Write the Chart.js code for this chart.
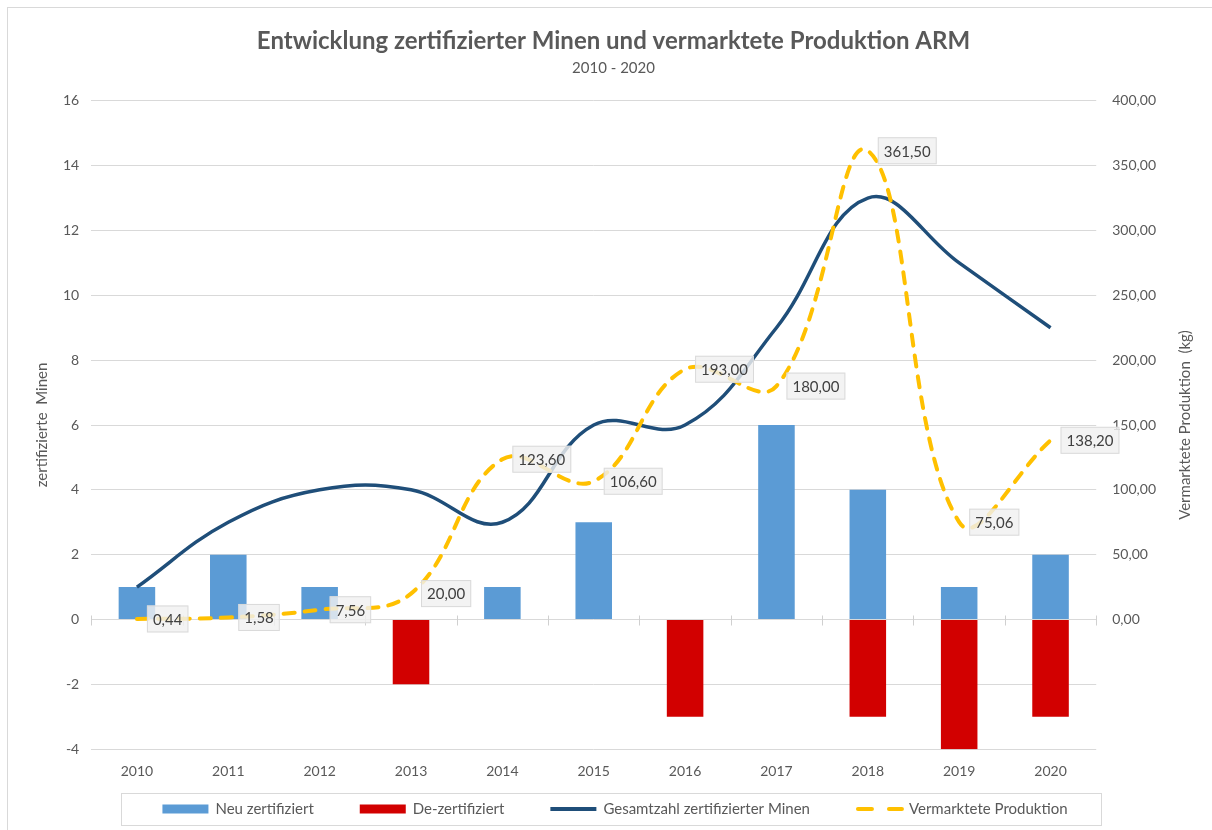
<!DOCTYPE html>
<html lang="de">
<head>
  <meta charset="UTF-8">
  <title>Entwicklung zertifizierter Minen</title>
  <script src="https://cdn.jsdelivr.net/npm/chart.js"></script>
  <style>
    html, body { margin: 0; padding: 0; background: #fff; }
    #wrap { position: relative; width: 1212px; height: 830px; }
  </style>
</head>
<body>
<div id="wrap">
  <canvas id="grafik" width="1212" height="830"></canvas>
</div>

<script>
  // Daten
  const jahre = ['2010', '2011', '2012', '2013', '2014', '2015', '2016', '2017', '2018', '2019', '2020'];
  const neuZertifiziert = [1, 2, 1, null, 1, 3, null, 6, 4, 1, 2];
  const deZertifiziert = [null, null, null, -2, null, null, -3, null, -3, -4, -3];
  const gesamtMinen = [1, 3, 4, 4, 3, 6, 6, 9, 13, 11, 9];
  const produktion = [0.44, 1.58, 7.56, 20.00, 123.60, 106.60, 193.00, 180.00, 361.50, 75.06, 138.20];

  // Achsenbereiche
  const minenAchse = [-4, 16, 2];       // min, max, schritt
  const produktionAchse = [-100, 400, 50];

  const schrift = 'Lato, "Open Sans", sans-serif';
  const grau = '#595959';

  function komma(v) {
    return v.toFixed(2).replace('.', ',');
  }

  // Legende selbst zeichnen (Excel-Stil mit Rahmen)
  function zeichneLegende(chart) {
    const ctx = chart.ctx;
    const ds = chart.data.datasets;
    ctx.save();
    ctx.font = '15px ' + schrift;
    const marke = 46, abstand = 7, luecke = 46;
    const breiten = ds.map(d => marke + abstand + ctx.measureText(d.label).width);
    const gesamt = breiten.reduce((a, b) => a + b, 0) + luecke * (ds.length - 1);
    const mitte = chart.width / 2 + 9;
    const yc = chart.height - 21;
    let x = mitte - gesamt / 2;

    ctx.strokeStyle = '#d9d9d9';
    ctx.lineWidth = 1;
    ctx.strokeRect(Math.round(x - 41) + 0.5, Math.round(yc - 16) + 0.5, Math.round(gesamt + 75), 32);

    ds.forEach((d, i) => {
      if (d.type === 'bar') {
        ctx.fillStyle = d.backgroundColor;
        ctx.fillRect(x, yc - 4.5, marke, 9);
      } else {
        ctx.strokeStyle = d.borderColor;
        ctx.lineWidth = 4;
        ctx.setLineDash(d.borderDash ? [14, 17] : []);
        ctx.lineCap = d.borderDash ? 'round' : 'butt';
        ctx.beginPath();
        ctx.moveTo(x + (d.borderDash ? 2 : 0), yc);
        ctx.lineTo(x + marke, yc);
        ctx.stroke();
        ctx.setLineDash([]);
      }
      ctx.fillStyle = grau;
      ctx.textAlign = 'left';
      ctx.textBaseline = 'middle';
      ctx.fillText(d.label, x + marke + abstand, yc);
      x += breiten[i] + luecke;
    });
    ctx.restore();
  }

  // Rahmen, Null-Linie mit Teilstrichen, Datenbeschriftung, Legende
  const extras = {
    id: 'extras',
    beforeDatasetsDraw(chart) {
      const ctx = chart.ctx;
      const xs = chart.scales.x;
      const y0 = chart.scales.y.getPixelForValue(0);
      const w = xs.getPixelForValue(1) - xs.getPixelForValue(0);
      ctx.save();
      ctx.strokeStyle = '#d0d0d0';
      ctx.lineWidth = 1;
      for (let k = 0; k <= jahre.length; k++) {
        const x = Math.round(xs.getPixelForValue(0) - w / 2 + k * w) + 0.5;
        ctx.beginPath();
        ctx.moveTo(x, y0 - 4);
        ctx.lineTo(x, y0 + 6);
        ctx.stroke();
      }
      ctx.restore();
    },
    afterDraw(chart) {
      const ctx = chart.ctx;
      ctx.save();

      // aeusserer Rahmen (links und oben sichtbar)
      ctx.strokeStyle = '#d9d9d9';
      ctx.lineWidth = 1;
      ctx.strokeRect(7.5, 7.5, chart.width + 10, chart.height + 10);

      // Datenbeschriftungen der Produktion
      const meta = chart.getDatasetMeta(3);
      ctx.font = '15px ' + schrift;
      ctx.textBaseline = 'middle';
      ctx.textAlign = 'left';
      meta.data.forEach((pt, i) => {
        const txt = komma(produktion[i]);
        const tw = ctx.measureText(txt).width;
        const bx = pt.x + 10;
        const bh = 27;
        const by = pt.y - bh / 2;
        ctx.fillStyle = 'rgba(240,240,240,0.82)';
        ctx.fillRect(bx, by, tw + 12, bh);
        ctx.strokeStyle = 'rgba(215,215,215,0.9)';
        ctx.strokeRect(bx + 0.5, by + 0.5, tw + 11, bh - 1);
        ctx.fillStyle = '#404040';
        ctx.fillText(txt, bx + 6, pt.y + 1);
      });

      // Titel der rechten Achse (von unten nach oben)
      const y1 = chart.scales.y1;
      ctx.save();
      ctx.translate(y1.right - 9, (chart.chartArea.top + chart.chartArea.bottom) / 2);
      ctx.rotate(-Math.PI / 2);
      ctx.textAlign = 'center';
      ctx.fillStyle = grau;
      ctx.font = '15px ' + schrift;
      ctx.fillText('Vermarktete Produktion  (kg)', 0, 0);
      ctx.restore();

      ctx.restore();
      zeichneLegende(chart);
    }
  };

  new Chart(document.getElementById('grafik').getContext('2d'), {
    data: {
      labels: jahre,
      datasets: [
        {
          type: 'bar',
          label: 'Neu zertifiziert',
          data: neuZertifiziert,
          backgroundColor: '#5b9bd5',
          grouped: false,
          barPercentage: 0.4,
          categoryPercentage: 1,
          yAxisID: 'y',
          order: 3
        },
        {
          type: 'bar',
          label: 'De-zertifiziert',
          data: deZertifiziert,
          backgroundColor: '#d20000',
          grouped: false,
          barPercentage: 0.4,
          categoryPercentage: 1,
          yAxisID: 'y',
          order: 3
        },
        {
          type: 'line',
          label: 'Gesamtzahl zertifizierter Minen',
          data: gesamtMinen,
          borderColor: '#1f4e79',
          backgroundColor: '#1f4e79',
          borderWidth: 3.5,
          tension: 0.4,
          pointRadius: 0,
          yAxisID: 'y',
          order: 2
        },
        {
          type: 'line',
          label: 'Vermarktete Produktion',
          data: produktion,
          borderColor: '#ffc000',
          backgroundColor: '#ffc000',
          borderWidth: 4,
          borderDash: [11, 10],
          borderCapStyle: 'round',
          tension: 0.4,
          pointRadius: 0,
          yAxisID: 'y1',
          order: 1
        }
      ]
    },
    options: {
      responsive: false,
      animation: false,
      layout: { padding: { left: 33, right: 18, top: 0, bottom: 36 } },
      plugins: {
        title: {
          display: true,
          text: 'Entwicklung zertifizierter Minen und vermarktete Produktion ARM',
          color: grau,
          font: { family: schrift, size: 24, weight: 'bold' },
          padding: { top: 27, bottom: 3 }
        },
        subtitle: {
          display: true,
          text: '2010 - 2020',
          color: grau,
          font: { family: schrift, size: 15 },
          padding: { top: 0, bottom: 24 }
        },
        legend: { display: false },
        tooltip: { enabled: false }
      },
      scales: {
        x: {
          grid: { display: false, drawTicks: false },
          border: { display: false },
          ticks: { color: grau, font: { family: schrift, size: 14 }, padding: 14 }
        },
        y: {
          position: 'left',
          min: minenAchse[0],
          max: minenAchse[1],
          ticks: { stepSize: minenAchse[2], color: grau, font: { family: schrift, size: 14 }, padding: 12 },
          grid: { color: '#d9d9d9', drawTicks: false },
          border: { display: false },
          title: {
            display: true,
            text: 'zertifizierte  Minen',
            color: grau,
            font: { family: schrift, size: 15 },
            padding: { top: 0, bottom: 0 }
          }
        },
        y1: {
          position: 'right',
          min: produktionAchse[0],
          max: produktionAchse[1],
          ticks: {
            stepSize: produktionAchse[2],
            color: grau,
            font: { family: schrift, size: 14 },
            padding: 16,
            callback: v => v < 0 ? '' : komma(v)
          },
          grid: { drawOnChartArea: false, drawTicks: false },
          border: { display: false },
          title: {
            display: true,
            text: 'Vermarktete Produktion  (kg)',
            color: 'rgba(0,0,0,0)',
            font: { family: schrift, size: 15 },
            padding: { top: 0, bottom: 4 }
          }
        }
      }
    },
    plugins: [extras]
  });
</script>
</body>
</html>
